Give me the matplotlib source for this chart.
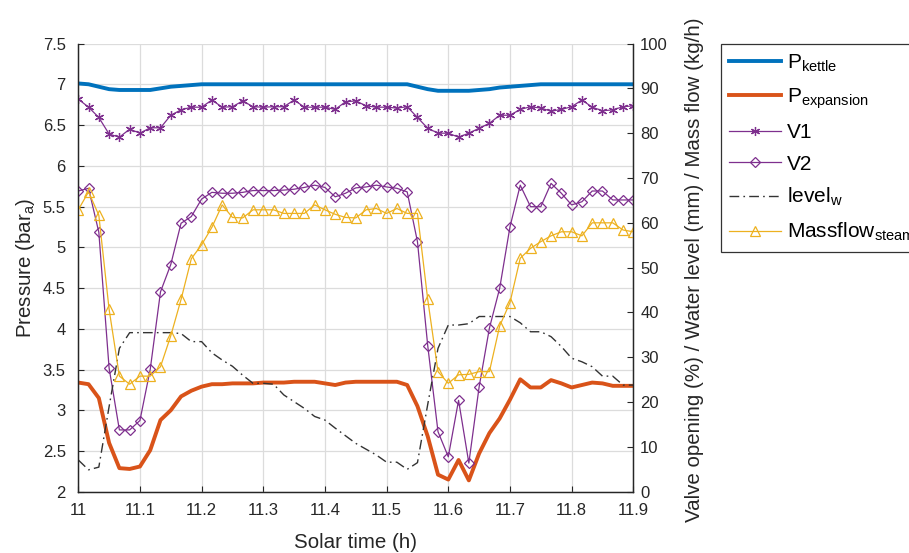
import numpy as np
import matplotlib.pyplot as plt

plt.rcParams['font.family'] = ['Liberation Sans', 'DejaVu Sans']
plt.rcParams['mathtext.default'] = 'regular'

# one sample per minute, 11:00 -> 11:54 solar time
minutes = np.arange(55)
solar_time = 11 + minutes / 60.0

# pressures (bar_a), left axis
p_kettle = [7.01, 7.00, 6.97, 6.94, 6.93, 6.93, 6.93, 6.93, 6.95, 6.97,
            6.98, 6.99, 7.00, 7.00, 7.00, 7.00, 7.00, 7.00, 7.00, 7.00,
            7.00, 7.00, 7.00, 7.00, 7.00, 7.00, 7.00, 7.00, 7.00, 7.00,
            7.00, 7.00, 7.00, 6.97, 6.94, 6.92, 6.92, 6.92, 6.92, 6.93,
            6.94, 6.96, 6.97, 6.98, 6.99, 7.00, 7.00, 7.00, 7.00, 7.00,
            7.00, 7.00, 7.00, 7.00, 7.00]
p_expansion = [3.34, 3.32, 3.15, 2.60, 2.29, 2.28, 2.31, 2.51, 2.88, 3.00,
               3.17, 3.24, 3.29, 3.32, 3.32, 3.33, 3.33, 3.33, 3.34, 3.34,
               3.34, 3.35, 3.35, 3.35, 3.33, 3.31, 3.34, 3.35, 3.35, 3.35,
               3.35, 3.35, 3.31, 3.05, 2.68, 2.21, 2.15, 2.39, 2.14, 2.47,
               2.72, 2.90, 3.13, 3.38, 3.28, 3.28, 3.37, 3.33, 3.28, 3.31,
               3.34, 3.33, 3.30, 3.30, 3.30]

# valve openings (%), water level (mm), steam mass flow (kg/h), right axis
v1 = [87.6, 85.8, 83.5, 79.8, 79.1, 80.9, 80.0, 81.2, 81.2, 84.0,
      85.2, 85.8, 85.8, 87.4, 85.8, 85.9, 87.2, 85.9, 85.8, 85.9,
      85.9, 87.4, 85.8, 85.8, 85.8, 85.3, 87.0, 87.2, 86.1, 85.8,
      85.8, 85.6, 85.9, 83.5, 81.1, 80.0, 80.0, 79.1, 80.0, 81.1,
      82.2, 84.0, 84.0, 85.3, 85.9, 85.6, 84.9, 85.3, 85.9, 87.4,
      85.8, 85.0, 85.2, 85.9, 86.1]
v2 = [67.1, 67.7, 57.9, 27.6, 13.8, 13.8, 15.9, 27.3, 44.6, 50.7,
      59.9, 61.4, 65.3, 66.8, 66.6, 66.6, 66.8, 67.2, 67.2, 67.2,
      67.3, 67.5, 67.9, 68.4, 67.9, 65.8, 66.6, 67.8, 68.0, 68.4,
      68.0, 67.7, 66.9, 55.8, 32.6, 13.4, 7.8, 20.4, 6.4, 23.4,
      36.5, 45.4, 59.1, 68.4, 63.6, 63.6, 68.8, 66.6, 64.0, 64.7,
      67.1, 67.1, 65.1, 65.1, 65.1]
level_w = [7.1, 4.9, 5.5, 19.0, 32.0, 35.5, 35.5, 35.5, 35.5, 35.5,
           35.3, 33.5, 33.5, 31.0, 29.4, 28.0, 26.0, 24.2, 24.2, 24.0,
           21.6, 20.1, 18.6, 16.8, 16.0, 14.2, 12.5, 10.8, 9.5, 8.2,
           6.6, 6.6, 5.0, 6.5, 19.5, 32.0, 37.2, 37.2, 37.5, 39.1,
           39.1, 39.1, 39.1, 37.7, 35.7, 35.7, 34.6, 32.4, 29.8, 29.0,
           27.9, 25.8, 25.8, 23.8, 23.8]
massflow_steam = [62.9, 66.9, 61.7, 40.7, 25.8, 24.0, 25.8, 25.8, 27.9, 34.8,
                  42.9, 52.0, 55.1, 59.0, 64.0, 61.2, 61.1, 62.9, 62.9, 62.9,
                  62.1, 62.1, 62.1, 64.0, 62.9, 61.9, 61.2, 61.1, 62.9, 63.2,
                  62.1, 63.2, 62.1, 62.1, 42.9, 26.8, 24.2, 26.1, 26.2, 26.8,
                  26.8, 37.0, 42.2, 52.1, 54.3, 55.8, 57.1, 58.0, 58.0, 57.1,
                  60.0, 60.0, 60.0, 58.4, 58.0]

c_blue = '#0072BD'
c_orange = '#D95319'
c_purple = '#7E2F8E'
c_yellow = '#EDB120'
c_text = '#262626'

fig = plt.figure(figsize=(9.09, 5.53), dpi=100)
ax = fig.add_axes([0.0861, 0.1107, 0.6106, 0.8106])
ax2 = ax.twinx()

l1, = ax.plot(solar_time, p_kettle, color=c_blue, lw=2.8, label='P$_{kettle}$')
l2, = ax.plot(solar_time, p_expansion, color=c_orange, lw=2.8, label='P$_{expansion}$')

l3, = ax2.plot(solar_time, v1, color=c_purple, lw=0.9, marker=(6, 2, 0), ms=6.5,
               mew=0.9, label='V1')
l4, = ax2.plot(solar_time, v2, color=c_purple, lw=0.9, marker='D', ms=5.5,
               mfc='none', mew=0.9, label='V2')
l5, = ax2.plot(solar_time, level_w, color='#333333', lw=1.0, ls=(0, (7, 3, 1.2, 3)),
               label='level$_{w}$')
l6, = ax2.plot(solar_time, massflow_steam, color=c_yellow, lw=0.9, marker='^', ms=7.5,
               mfc='none', mew=0.9, label='Massflow$_{steam}$')

ax.set_xlim(11, 11.9)
ax.set_ylim(2, 7.5)
ax2.set_ylim(0, 100)
ax.set_xticks(np.arange(11, 11.91, 0.1))
ax.set_xticklabels(['11', '11.1', '11.2', '11.3', '11.4', '11.5', '11.6', '11.7', '11.8', '11.9'])
ax.set_yticks(np.arange(2, 7.51, 0.5))
ax.set_yticklabels(['2', '2.5', '3', '3.5', '4', '4.5', '5', '5.5', '6', '6.5', '7', '7.5'])
ax2.set_yticks(np.arange(0, 101, 10))

ax.grid(True, color='#dcdcdc', lw=0.9)
ax.set_axisbelow(True)

for a in (ax, ax2):
    a.spines['top'].set_visible(False)
    for s in ('left', 'right', 'bottom'):
        a.spines[s].set_color(c_text)
        a.spines[s].set_linewidth(0.9)
ax.tick_params(axis='x', direction='in', length=4, labelsize=12, colors=c_text, pad=8)
ax.tick_params(axis='y', direction='in', length=4, labelsize=12, colors=c_text, pad=9)
ax2.tick_params(axis='y', direction='in', length=4, labelsize=12, colors=c_text, pad=5)

ax.set_xlabel('Solar time (h)', fontsize=14.8, color=c_text)
ax.xaxis.set_label_coords(0.4986, -0.092)
ax.set_ylabel('Pressure (bar$_{a}$)', fontsize=14.8, color=c_text)
ax.yaxis.set_label_coords(-0.075, 0.5)
ax2.set_ylabel('Valve opening (%) / Water level (mm) / Mass flow (kg/h)',
               fontsize=14.8, color=c_text)
ax2.yaxis.set_label_coords(1.093, 0.495)

leg = fig.legend(handles=[l1, l2, l3, l4, l5, l6], loc='upper left',
                 bbox_to_anchor=(721 / 909, 1 - 44 / 553), borderaxespad=0,
                 fontsize=15, handlelength=2.5, handletextpad=0.25,
                 labelspacing=0.6, borderpad=0.4, fancybox=False, framealpha=1)
leg.get_frame().set_edgecolor('#333333')
leg.get_frame().set_linewidth(0.9)

fig.savefig('out.png', dpi=100)
